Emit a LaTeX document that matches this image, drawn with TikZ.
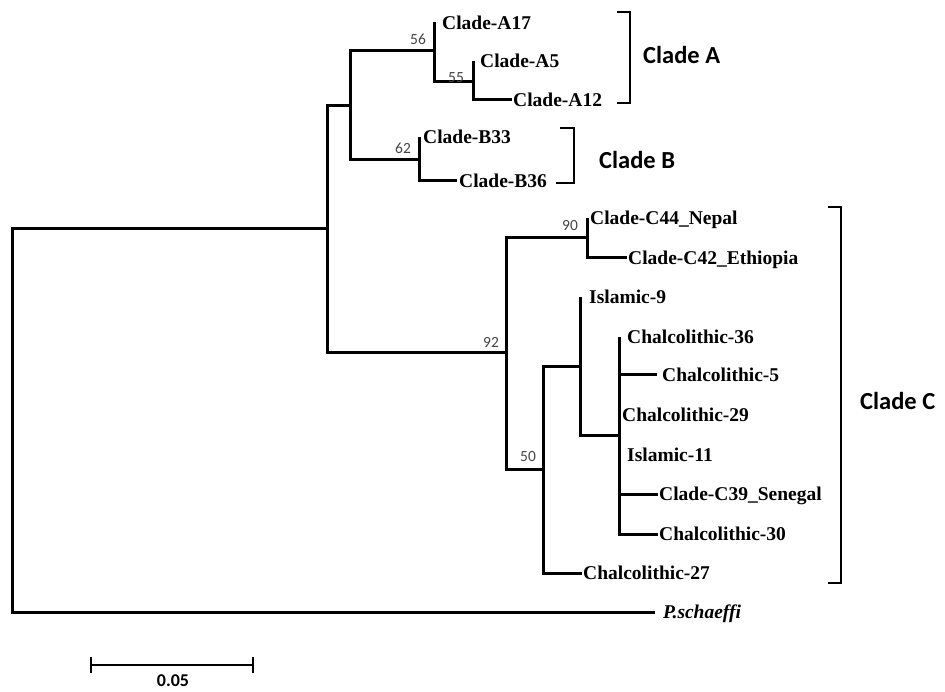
\documentclass[tikz,border=0pt]{standalone}
\usepackage{fontspec}
\setmainfont{Liberation Serif}
\newfontfamily\calfont{Carlito}
\definecolor{bootgray}{HTML}{444444}
\begin{document}
\begin{tikzpicture}[x=1pt,y=-1pt,
  tree/.style={line width=3pt, line join=miter},
  leaf/.style={anchor=west, inner sep=0pt, font=\fontsize{19.5}{21}\selectfont\bfseries, text height=12.9pt, text depth=0pt},
  boot/.style={inner sep=0pt, text=bootgray, font=\calfont\fontsize{15.5}{17}\selectfont},
  cladelbl/.style={anchor=west, inner sep=0pt, font=\calfont\bfseries\fontsize{24.5}{26}\selectfont},
  bracket/.style={line width=2.2pt, line join=miter},
  scalebar/.style={line width=1.5pt}]
\useasboundingbox (0,0) rectangle (945,692);

% internal nodes
\coordinate (nR) at (12,420);
\coordinate (nABC) at (327,229);
\coordinate (nAB) at (350,106);
\coordinate (nA) at (434,51);
\coordinate (nA5) at (473,82);
\coordinate (nB) at (419,160);
\coordinate (nC) at (506,353);
\coordinate (n90) at (587,238);
\coordinate (n50) at (543,469);
\coordinate (nI) at (580,367);
\coordinate (nJ) at (619,435);

% tips
\coordinate (tA17) at (434,22);
\coordinate (tA5) at (473,61);
\coordinate (tA12) at (512,100);
\coordinate (tB33) at (419,137);
\coordinate (tB36) at (457,181);
\coordinate (tC44) at (587,218);
\coordinate (tC42) at (627,258);
\coordinate (tI9) at (580,297);
\coordinate (tC36) at (619,337);
\coordinate (tC5) at (657,375);
\coordinate (tC29) at (619,415);
\coordinate (tI11) at (619,455);
\coordinate (tC39) at (658,494);
\coordinate (tC30) at (658,534);
\coordinate (tC27) at (582,573);
\coordinate (tP) at (655,612);

% leaf labels
\node[leaf] (lA17) at ([xshift=8pt,yshift=-1pt]tA17) {Clade-A17};
\node[leaf] (lA5) at ([xshift=7pt]tA5) {Clade-A5};
\node[leaf] (lA12) at ([xshift=1pt]tA12) {Clade-A12};
\node[leaf] (lB33) at ([xshift=4pt]tB33) {Clade-B33};
\node[leaf] (lB36) at ([xshift=2pt]tB36) {Clade-B36};
\node[leaf] (lC44) at ([xshift=3pt]tC44) {Clade-C44\_Nepal};
\node[leaf] (lC42) at ([xshift=1pt]tC42) {Clade-C42\_Ethiopia};
\node[leaf] (lI9) at ([xshift=9pt]tI9) {Islamic-9};
\node[leaf] (lC36) at ([xshift=8pt]tC36) {Chalcolithic-36};
\node[leaf] (lC5) at ([xshift=5pt]tC5) {Chalcolithic-5};
\node[leaf] (lC29) at ([xshift=3pt]tC29) {Chalcolithic-29};
\node[leaf] (lI11) at ([xshift=8pt]tI11) {Islamic-11};
\node[leaf] (lC39) at ([xshift=1pt]tC39) {Clade-C39\_Senegal};
\node[leaf] (lC30) at ([xshift=1pt]tC30) {Chalcolithic-30};
\node[leaf] (lC27) at ([xshift=1pt]tC27) {Chalcolithic-27};
\node[leaf] (lP) at ([xshift=8pt]tP) {\itshape P.schaeffi};

% branches
\draw[tree] (nR) |- (nABC);
\draw[tree] (nR) |- (tP);
\draw[tree] (nABC) |- (nAB);
\draw[tree] (nABC) |- (nC);
\draw[tree] (nAB) |- (nA);
\draw[tree] (nAB) |- (nB);
\draw[tree] (nA) |- (tA17);
\draw[tree] (nA) |- (nA5);
\draw[tree] (nA5) |- (tA5);
\draw[tree] (nA5) |- (tA12);
\draw[tree] (nB) |- (tB33);
\draw[tree] (nB) |- (tB36);
\draw[tree] (nC) |- (n90);
\draw[tree] (nC) |- (n50);
\draw[tree] (n90) |- (tC44);
\draw[tree] (n90) |- (tC42);
\draw[tree] (n50) |- (nI);
\draw[tree] (n50) |- (tC27);
\draw[tree] (nI) |- (tI9);
\draw[tree] (nI) |- (nJ);
\draw[tree] (nJ) |- (tC36);
\draw[tree] (nJ) |- (tC5);
\draw[tree] (nJ) |- (tC29);
\draw[tree] (nJ) |- (tI11);
\draw[tree] (nJ) |- (tC39);
\draw[tree] (nJ) |- (tC30);

% bootstrap values
\node[boot] (b56) at (418,39) {56};
\node[boot] (b55) at (456,78) {55};
\node[boot] (b62) at (403,148) {62};
\node[boot] (b90) at (570,226) {90};
\node[boot] (b92) at (491,342) {92};
\node[boot] (b50) at (528,457) {50};

% brackets
\coordinate (brAt) at (617,12);
\coordinate (brAb) at (617,103);
\draw[bracket] (brAt) -- (630,12) -- (630,103) -- (brAb);
\node[cladelbl] (cA) at (643,55) {Clade A};

\coordinate (brBt) at (560,128);
\coordinate (brBb) at (556,183);
\draw[bracket] (brBt) -- (574,128) -- (574,183) -- (brBb);
\node[cladelbl] (cB) at (599,160) {Clade B};

\coordinate (brCt) at (828,207);
\coordinate (brCb) at (828,583);
\draw[bracket] (brCt) -- (841,207) -- (841,583) -- (brCb);
\node[cladelbl] (cC) at (860,401) {Clade C};

% scale bar
\coordinate (sL) at (91,665);
\coordinate (sR) at (253,665);
\draw[scalebar] (sL) -- (sR);
\draw[scalebar] ([yshift=-8pt]sL) -- ([yshift=8pt]sL);
\draw[scalebar] ([yshift=-8pt]sR) -- ([yshift=8pt]sR);
\node[inner sep=0pt, font=\calfont\bfseries\fontsize{18}{20}\selectfont] (sLbl) at (173,681) {0.05};
\end{tikzpicture}
\end{document}
